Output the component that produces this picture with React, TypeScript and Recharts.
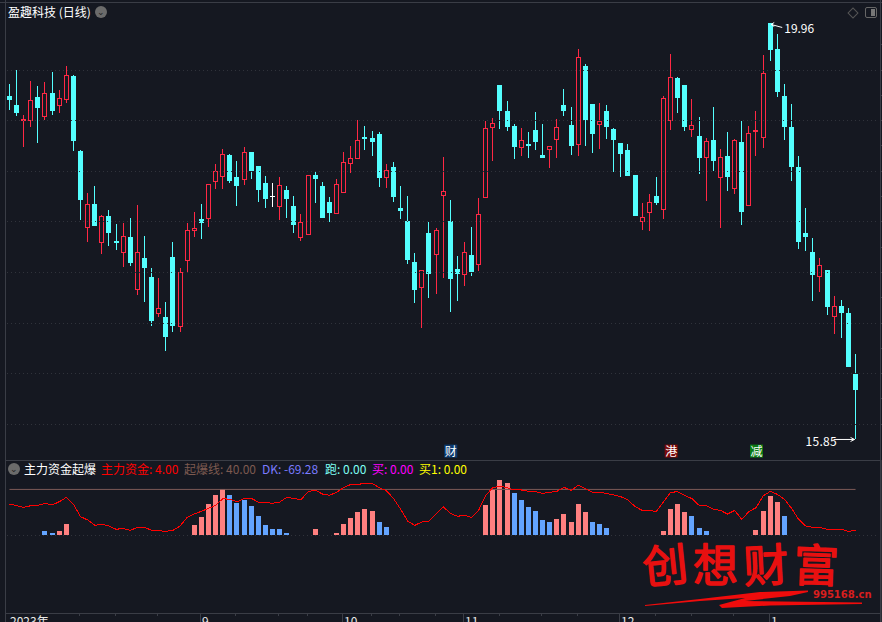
import { Bar, ComposedChart, Line, ReferenceDot, ReferenceLine, XAxis, YAxis } from 'recharts'

const FONT = '"Noto Sans CJK SC", "Noto Sans", sans-serif'
const BG = '#151821'
const FRAME = '#3a3d46'
const GRID = '#30333b'
const CYAN = '#54ffff'
const RED = '#ff2844'

const highs = [
  19.36, 19.5, 19.06, 19.39, 19.34, 19.38, 19.48, 19.3, 19.54, 19.45,
  18.71, 18.29, 18.35, 18.07, 18.12, 17.98, 17.99, 18.04, 18.17, 17.86,
  17.54, 17.45, 17.21, 17.8, 17.54, 17.99, 18.1, 18.18, 18.37, 18.57,
  18.72, 18.67, 18.6, 18.74, 18.69, 18.55, 18.45, 18.38, 18.44, 18.35,
  18.26, 18.08, 18.46, 18.5, 18.39, 18.25, 18.42, 18.69, 18.75, 19.01,
  18.95, 18.9, 18.89, 18.57, 18.59, 18.35, 18.26, 17.69, 17.52, 18.0,
  17.94, 18.64, 18.22, 17.66, 17.8, 17.95, 18.24, 19.0, 19.03, 19.35,
  19.19, 18.97, 18.93, 18.89, 19.09, 18.97, 18.75, 19.02, 19.31, 19.13,
  19.71, 19.56, 19.16, 19.17, 19.15, 18.93, 18.78, 18.77, 18.46, 18.19,
  18.28, 18.44, 19.24, 19.66, 19.43, 19.35, 19.21, 19.04, 18.83, 19.13,
  18.72, 18.89, 18.82, 19.0, 18.95, 19.1, 19.65, 19.96, 19.86, 19.36,
  19.16, 18.65, 18.14, 17.84, 17.64, 17.52, 17.27, 17.23, 17.15, 16.69,
]

const lows = [
  19.1, 19.05, 18.74, 18.94, 18.78, 19.0, 19.06, 19.07, 19.17, 18.7,
  18.02, 17.81, 17.96, 17.68, 17.76, 17.72, 17.56, 17.57, 17.28, 17.21,
  16.97, 17.06, 16.73, 16.91, 16.91, 17.51, 17.85, 17.83, 17.95, 18.32,
  18.32, 18.38, 18.16, 18.36, 18.42, 18.19, 18.13, 18.14, 18.02, 18.03,
  17.89, 17.81, 17.87, 18.18, 18.03, 18.0, 18.08, 18.29, 18.48, 18.62,
  18.71, 18.65, 18.35, 18.33, 18.19, 18.02, 17.59, 17.2, 16.95, 17.25,
  17.29, 17.44, 17.11, 17.22, 17.37, 17.47, 17.52, 18.24, 18.61, 18.92,
  18.89, 18.62, 18.65, 18.63, 18.71, 18.63, 18.53, 18.63, 19.04, 18.66,
  18.65, 18.75, 18.68, 18.72, 18.81, 18.5, 18.44, 18.45, 18.06, 17.92,
  17.91, 18.16, 18.02, 18.91, 19.07, 18.9, 18.83, 18.48, 18.21, 18.5,
  17.94, 18.31, 18.28, 17.97, 18.16, 18.66, 18.73, 19.58, 19.24, 18.81,
  18.4, 17.73, 17.72, 17.22, 17.3, 17.08, 16.89, 16.85, 16.57, 15.85,
]

const opens = [
  19.24, 19.15, 19.0, 19.0, 19.23, 19.04, 19.27, 19.14, 19.2, 19.44,
  18.7, 17.94, 18.18, 17.79, 18.06, 17.81, 17.69, 17.85, 17.33, 17.64,
  17.46, 17.09, 17.06, 17.65, 16.96, 17.61, 17.91, 18.03, 18.03, 18.39,
  18.44, 18.66, 18.44, 18.41, 18.69, 18.55, 18.38, 18.26, 18.15, 18.31,
  18.16, 17.84, 17.87, 18.46, 18.35, 18.2, 18.08, 18.29, 18.57, 18.62,
  18.84, 18.83, 18.87, 18.43, 18.54, 18.14, 18.01, 17.6, 17.35, 17.89,
  17.67, 18.26, 18.01, 17.53, 17.47, 17.67, 17.57, 18.24, 18.93, 19.35,
  19.1, 18.95, 18.73, 18.77, 18.91, 18.66, 18.71, 18.81, 19.15, 18.96,
  18.76, 19.54, 19.16, 18.96, 19.1, 18.92, 18.78, 18.71, 18.46, 18.0,
  18.09, 18.26, 18.12, 19.0, 19.42, 19.35, 18.91, 18.85, 18.63, 18.81,
  18.43, 18.65, 18.32, 18.79, 18.16, 18.89, 18.83, 19.96, 19.71, 19.24,
  18.94, 18.54, 17.89, 17.7, 17.46, 17.52, 17.06, 17.17, 17.1, 16.5,
]

const closes = [
  19.2, 19.08, 19.02, 19.2, 19.12, 19.27, 19.1, 19.22, 19.45, 18.8,
  18.22, 18.18, 17.96, 18.06, 17.89, 17.79, 17.86, 17.59, 17.7, 17.54,
  17.02, 17.15, 16.86, 16.97, 17.5, 17.92, 17.94, 17.99, 18.37, 18.5,
  18.67, 18.4, 18.35, 18.69, 18.5, 18.31, 18.23, 18.26, 18.36, 18.23,
  17.97, 18.0, 18.46, 18.42, 18.04, 18.09, 18.37, 18.59, 18.63, 18.81,
  18.82, 18.79, 18.43, 18.51, 18.25, 18.11, 17.62, 17.33, 17.52, 17.48,
  17.92, 18.3, 17.44, 17.48, 17.7, 17.5, 18.08, 18.93, 18.98, 19.1,
  18.94, 18.74, 18.81, 18.75, 18.79, 18.63, 18.75, 18.94, 19.1, 18.75,
  19.63, 19.01, 18.87, 19.0, 18.94, 18.81, 18.67, 18.45, 18.06, 18.05,
  18.2, 18.19, 19.22, 19.43, 19.22, 18.94, 18.96, 18.63, 18.8, 18.6,
  18.64, 18.44, 18.81, 18.1, 18.88, 18.91, 19.47, 19.7, 19.28, 18.94,
  18.54, 17.8, 17.85, 17.47, 17.57, 17.16, 17.17, 17.1, 16.57, 16.34,
]

const priceTicks = [16, 16.5, 17, 17.5, 18, 18.5, 19, 19.5]
const edgeTicks = [16, 16.25, 16.5, 16.75, 17, 17.25, 17.5, 17.75, 18, 18.25, 18.5, 18.75, 19, 19.25, 19.5, 19.75]

// 主力资金 line
const mainFunds = [
  27.2, 25.7, 24.3, 25.7, 26, 27.8, 26.3, 29.2, 33, 26.9,
  16.1, 13.2, 8.5, 9.4, 7.9, 5, 5.8, 4.1, 6.7, 6.7,
  4.1, 3.8, 3.2, 4.1, 7.9, 15.5, 18.4, 20.8, 23.4, 26,
  31.9, 31.3, 29.2, 31.9, 32.2, 28.9, 28.7, 27.8, 28.9, 33,
  32, 31, 38, 39.5, 36, 34.8, 37.4, 41.5, 44.4, 44.4,
  45.3, 45.3, 41.5, 38.9, 32.2, 22.8, 12.3, 8.5, 11.4, 12,
  18.4, 24.9, 19, 16.4, 17.3, 15.5, 21.9, 35.1, 41.5, 43,
  41.5, 39.5, 39.5, 38.3, 38, 36.5, 37.4, 38.3, 41.8, 39.2,
  43.6, 40.6, 37.4, 37.4, 36.5, 35.1, 33.6, 30.7, 24.9, 21.6,
  21.3, 20.8, 29.2, 37.4, 38, 34.5, 31.9, 26, 26, 22.5,
  21.6, 18.4, 21.6, 13.7, 20.5, 24, 34.2, 38.3, 35.7, 31.3,
  23.4, 13.7, 7.9, 6.7, 6.7, 5, 5, 5, 3.2, 4,
]

const pinkBars = [
  0, 0, 0, 0, 0, 0, 0, 3.5, 9.6, 0,
  0, 0, 0, 0, 0, 0, 0, 0, 0, 0,
  0, 0, 0, 0, 0, 0, 8.8, 15.8, 27.2, 35.1,
  40.4, 0, 0, 0, 0, 0, 0, 0, 0, 0,
  0, 0, 0, 5.3, 0, 0, 1.8, 9.6, 14.9, 20.2,
  22.8, 21, 0, 0, 0, 0, 0, 0, 0, 0,
  0, 0, 0, 0, 0, 0, 0, 26.3, 40.4, 48.2,
  45.6, 0, 0, 0, 0, 0, 0, 14, 18.4, 11.4,
  27.2, 20.2, 0, 0, 0, 0, 0, 0, 0, 0,
  0, 0, 3.5, 22.8, 27.2, 20.2, 0, 0, 0, 0,
  0, 0, 0, 0, 0, 4.4, 21, 34.2, 28.9, 0,
  0, 0, 0, 0, 0, 0, 0, 0, 0, 0,
]

const blueBars = [
  0, 0, 0, 0, 0, 3.5, 1.8, 0, 0, 0,
  0, 0, 0, 0, 0, 0, 0, 0, 0, 0,
  0, 0, 0, 0, 0, 0, 0, 0, 0, 0,
  0, 35.1, 28.1, 30.7, 25.4, 16.7, 8.8, 5.3, 5.3, 1.8,
  0, 0, 0, 0, 0, 0, 0, 0, 0, 0,
  0, 0, 11.4, 7, 0, 0, 0, 0, 0, 0,
  0, 0, 0, 0, 0, 0, 0, 0, 0, 0,
  0, 36.8, 30.7, 24.6, 21, 13.2, 11.4, 0, 0, 0,
  0, 0, 11.4, 9.6, 6.1, 0, 0, 0, 0, 0,
  0, 0, 0, 0, 0, 0, 16.7, 6.1, 3.5, 0,
  0, 0, 0, 0, 0, 0, 0, 0, 0, 16.7,
  0, 0, 0, 0, 0, 0, 0, 0, 0, 0,
]

const minorTicks = [10, 15, 21, 32, 38, 42, 51, 55, 60, 69, 75, 80, 91, 96, 102]
const monthTicks = [0, 27, 47, 64, 86, 107]
const monthLabels = ['2023年', '9', '10', '11', '12', '1']

const legendItems = [
  { text: '主力资金起爆', left: 24, color: '#ffffff' },
  { text: '主力资金: 4.00', left: 101, color: '#ff0000' },
  { text: '起爆线: 40.00', left: 184, color: '#7d5a50' },
  { text: 'DK: -69.28', left: 262, color: '#7b7bff' },
  { text: '跑: 0.00', left: 325, color: '#7ffff4' },
  { text: '买: 0.00', left: 372, color: '#ff00ff' },
  { text: '买1: 0.00', left: 419, color: '#ffff00' },
]

const brushChars = [
  { text: '创', left: 642, rotate: -6 },
  { text: '想', left: 693, rotate: 0 },
  { text: '财', left: 743, rotate: -3 },
  { text: '富', left: 794, rotate: 2 },
]

const candleData = highs.map((high, i) => ({
  idx: i,
  high,
  low: lows[i],
  open: opens[i],
  close: closes[i],
}))

const fundsData = mainFunds.map((line, i) => ({
  idx: i,
  line,
  pink: pinkBars[i],
  blue: blueBars[i],
}))

function Candle(props: any) {
  const { x, y, width, height, payload } = props
  const { high, low, open, close } = payload
  const ppu = height / (high - low)
  const top = Math.round(y + (high - Math.max(open, close)) * ppu)
  const bottom = Math.round(y + (high - Math.min(open, close)) * ppu)
  const cx = Math.floor(x + width / 2)
  const bodyH = Math.max(bottom - top, 2)
  const color = close > open ? RED : close < open ? CYAN : '#ffffff'
  const wick = (
    <rect x={cx} y={Math.round(y)} width={1} height={Math.max(Math.round(height), 1)} fill={color} shapeRendering="crispEdges" />
  )
  if (close === open) {
    return (
      <g>
        {wick}
        <rect x={cx - 2} y={top} width={5} height={1} fill={color} shapeRendering="crispEdges" />
      </g>
    )
  }
  if (close > open && bodyH > 2) {
    return (
      <g>
        {wick}
        <rect x={cx - 1.5} y={top + 0.5} width={4} height={bodyH - 1} fill={BG} stroke={color} strokeWidth={1} shapeRendering="crispEdges" />
      </g>
    )
  }
  return (
    <g>
      {wick}
      <rect x={cx - 2} y={top} width={5} height={bodyH} fill={color} shapeRendering="crispEdges" />
    </g>
  )
}

function FundBar(props: any) {
  const { x, y, width, height, fill } = props
  if (!height) return null
  const cx = Math.floor(x + width / 2)
  return <rect x={cx - 2} y={Math.round(y)} width={5} height={Math.round(height)} fill={fill} shapeRendering="crispEdges" />
}

function DottedRow(props: any) {
  return <line x1={7} x2={877} y1={props.y1} y2={props.y1} stroke={GRID} strokeDasharray="1 3" shapeRendering="crispEdges" />
}

function EdgeTick(props: any) {
  return <line x1={880} x2={882} y1={props.y1} y2={props.y1} stroke={FRAME} shapeRendering="crispEdges" />
}

function HighNote(props: any) {
  const { cx, cy } = props
  return (
    <g stroke="#ffffff" fill="none">
      <path d={`M${cx + 1} ${cy + 1}L${cx + 12} ${cy + 4}M${cx + 1} ${cy + 1}l3 -2M${cx + 1} ${cy + 1}l3 2`} />
      <text x={cx + 14} y={cy + 10} fill="#ffffff" stroke="none" fontFamily={FONT} fontSize={12}>19.96</text>
    </g>
  )
}

function LowNote(props: any) {
  const { cx, cy } = props
  return (
    <g stroke="#ffffff" fill="none">
      <path d={`M${cx - 22} ${cy}H${cx - 1}M${cx - 1} ${cy}l-4 -2M${cx - 1} ${cy}l-4 2`} />
      <text x={cx - 50} y={cy + 7} fill="#ffffff" stroke="none" fontFamily={FONT} fontSize={12} letterSpacing={0.3}>15.85</text>
    </g>
  )
}

function makeBadge(label: string, bg: string) {
  return function Badge(props: any) {
    const { cx, cy } = props
    return (
      <g>
        <rect x={cx - 6} y={cy - 6} width={13} height={13} fill={bg} />
        <text x={cx + 0.5} y={cy + 5} fill="#ffffff" textAnchor="middle" fontFamily={FONT} fontSize={12}>{label}</text>
      </g>
    )
  }
}

function TimeTick(props: any) {
  const { x, y, payload } = props
  const m = monthTicks.indexOf(payload.value)
  const px = Math.floor(x) - 1
  if (m < 0) return <line x1={px} x2={px} y1={y} y2={y + 3} stroke={FRAME} shapeRendering="crispEdges" />
  return (
    <g>
      {m > 0 && <line x1={px} x2={px} y1={y} y2={y + 9} stroke={FRAME} shapeRendering="crispEdges" />}
      <text x={m > 0 ? px + 2 : 10} y={y + 13} fill="#e8e8e8" fontFamily={FONT} fontSize={12}>{monthLabels[m]}</text>
    </g>
  )
}

const hline = (top: number, left = 5, right = 880) => (
  <div style={{ position: 'absolute', top, left, width: right - left, height: 1, background: FRAME }} />
)

export default function App() {
  return (
    <div style={{ position: 'absolute', left: 0, top: 0, width: 882, height: 622, background: BG, overflow: 'hidden', fontFamily: FONT }}>
      {hline(2, 0, 882)}
      {hline(460)}
      {hline(613)}
      <div style={{ position: 'absolute', top: 0, left: 5, width: 1, height: 622, background: FRAME }} />
      <div style={{ position: 'absolute', top: 0, left: 880, width: 1, height: 622, background: FRAME }} />
      <div style={{ position: 'absolute', top: 460, left: 881, width: 1, height: 162, background: '#2a2d35' }} />

      <div style={{ position: 'absolute', left: 8, top: 3, color: '#fff', fontSize: 12, lineHeight: '18px' }}>盈趣科技 (日线)</div>
      <div style={{ position: 'absolute', left: 95, top: 6, width: 12, height: 12, borderRadius: 6, background: '#6b6b6b', color: '#222', fontSize: 9, lineHeight: '11px', textAlign: 'center' }}>⌄</div>
      <div style={{ position: 'absolute', left: 849, top: 9, width: 6, height: 6, transform: 'rotate(45deg)', border: '1px solid #555' }} />
      <div style={{ position: 'absolute', left: 865, top: 7, width: 10, height: 9, border: '1px solid #666', borderRadius: 2 }}>
        <div style={{ position: 'absolute', right: 1, top: 1, width: 4, height: 7, background: '#777' }} />
      </div>

      <div style={{ position: 'absolute', left: 0, top: 0 }}>
        <ComposedChart width={882} height={460} data={candleData} margin={{ top: 0, right: 22.9, bottom: 0, left: 5.9 }} barCategoryGap={0}>
          <XAxis dataKey="idx" hide />
          <YAxis hide domain={[15.647, 20.192]} allowDataOverflow />
          {priceTicks.map((t) => (
            <ReferenceLine key={t} y={t} shape={DottedRow} />
          ))}
          {edgeTicks.map((t) => (
            <ReferenceLine key={'e' + t} y={t} shape={EdgeTick} />
          ))}
          <Bar dataKey={(d: any) => [d.low, d.high]} shape={Candle} isAnimationActive={false} />
          <ReferenceDot x={107} y={19.96} shape={HighNote} />
          <ReferenceDot x={119} y={15.85} shape={LowNote} />
          <ReferenceDot x={62} y={15.74} shape={makeBadge('财', '#0b3a6e')} />
          <ReferenceDot x={93} y={15.74} shape={makeBadge('港', '#7a0a0a')} />
          <ReferenceDot x={105} y={15.74} shape={makeBadge('减', '#0a7a14')} />
        </ComposedChart>
      </div>

      <div style={{ position: 'absolute', left: 8, top: 463, width: 12, height: 12, borderRadius: 6, background: '#6b6b6b', color: '#222', fontSize: 9, lineHeight: '11px', textAlign: 'center' }}>⌄</div>
      {legendItems.map((item) => (
        <div key={item.text} style={{ position: 'absolute', left: item.left, top: 460, color: item.color, fontSize: 12, lineHeight: '18px', whiteSpace: 'nowrap' }}>
          {item.text}
        </div>
      ))}

      <div style={{ position: 'absolute', left: 0, top: 460 }}>
        <ComposedChart width={882} height={162} data={fundsData} margin={{ top: 0, right: 22.9, bottom: 0, left: 5.9 }} barCategoryGap={0}>
          <XAxis
            dataKey="idx"
            height={9}
            axisLine={false}
            tickLine={false}
            tickSize={0}
            tickMargin={0}
            interval={0}
            ticks={[...monthTicks, ...minorTicks].sort((a, b) => a - b)}
            tick={TimeTick}
          />
          <YAxis hide domain={[-68.4, 65.8]} allowDataOverflow />
          <ReferenceLine y={0} shape={DottedRow} />
          <ReferenceLine
            segment={[{ x: 0, y: 40 }, { x: 119, y: 40 }]}
            stroke="#7d5a56"
          />
          <Bar dataKey="pink" stackId="funds" fill="#ff8080" shape={FundBar} isAnimationActive={false} />
          <Bar dataKey="blue" stackId="funds" fill="#63a4ff" shape={FundBar} isAnimationActive={false} />
          <Line dataKey="line" stroke="#ff0000" strokeWidth={1} dot={false} type="linear" shapeRendering="crispEdges" isAnimationActive={false} />
        </ComposedChart>
      </div>

      <svg width={882} height={622} style={{ position: 'absolute', left: 0, top: 0, pointerEvents: 'none' }}>
        {brushChars.map((c) => (
          <text
            key={c.text}
            x={c.left}
            y={582}
            fill="#e81010"
            stroke="#e81010"
            strokeWidth={1.4}
            strokeLinejoin="round"
            fontFamily={FONT}
            fontSize={45}
            transform={`rotate(${c.rotate} ${c.left + 22} 560)`}
          >
            {c.text}
          </text>
        ))}
        <path d="M645 605 L700 599 L760 592 L808 590.5 L808 592 L790 596 L745 601 L862 602.5 L862 604 L770 605.5 L722 608 L719 605 L745 598 L700 601 L645 606 Z" fill="#f00c0c" />
        <text x={813} y={598} fill="#d81e1e" fontFamily="DejaVu Sans, sans-serif" fontWeight={700} fontSize={10}>995168.cn</text>
      </svg>
    </div>
  )
}
